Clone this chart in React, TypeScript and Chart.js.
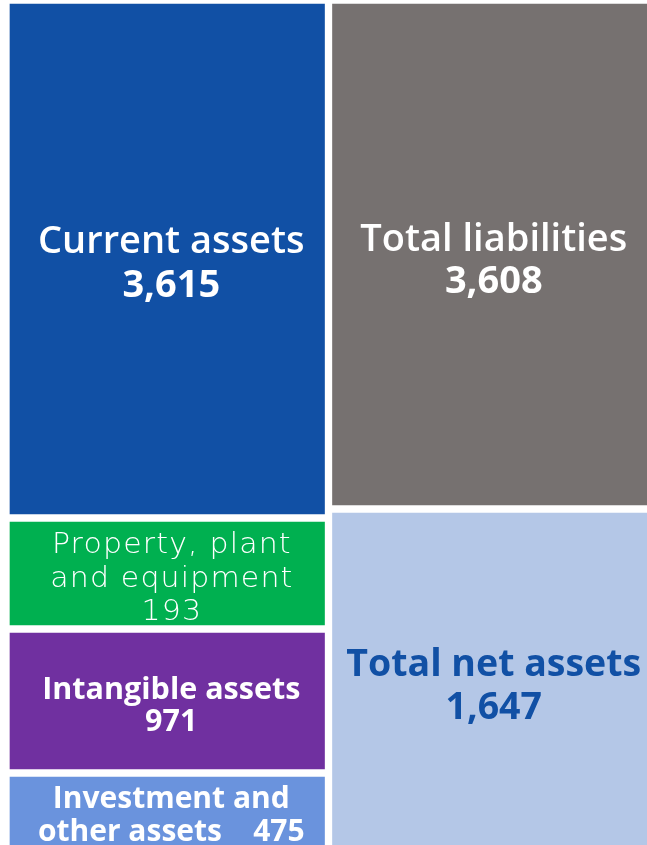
import React, { useEffect, useRef } from "react";
import { Chart, registerables } from "chart.js";

Chart.register(...registerables);

// ---- data ----
const columns = ["Assets", "Liabilities and net assets"];
const itemNames = [
  "Current assets",
  "Property, plant and equipment",
  "Intangible assets",
  "Investment and other assets",
  "Total liabilities",
  "Total net assets",
];
const itemValues = [3615, 193, 971, 475, 3608, 1647];
const itemColumn = [0, 0, 0, 0, 1, 1];
// drawn block sizes as they appear in the picture (relative units)
const blockSizes = [518, 111, 144, 83, 509, 347];
const labelLines = [
  ["Current assets", "{v}"],
  ["Property, plant", "and equipment", "{v}"],
  ["Intangible assets", "{v}"],
  ["Investment and", "other assets    {v}"],
  ["Total liabilities", "{v}"],
  ["Total net assets", "{v}"],
];

// ---- styles ----
const fillColors = ["#1150a5", "#00b050", "#7030a0", "#6a93dd", "#767170", "#b4c7e7"];
const textColors = ["#ffffff", "#ffffff", "#ffffff", "#ffffff", "#ffffff", "#1150a5"];
const FAMILY_MAIN = "'Open Sans', sans-serif";
const FAMILY_LIGHT = "'DejaVu Sans', sans-serif";
type LineStyle = { size: number; weight: string; family: string; spacing?: number; scaleX?: number };
const M = FAMILY_MAIN;
const L = FAMILY_LIGHT;
const lightLine: LineStyle = { size: 28, weight: "200", family: L, spacing: 1.1, scaleX: 1.07 };
const textStyles: { lines: LineStyle[]; lh: number; dy: number }[] = [
  { lines: [{ size: 38, weight: "600", family: M }, { size: 38, weight: "bold", family: M }], lh: 44, dy: 5 },
  { lines: [lightLine, lightLine, lightLine], lh: 33.5, dy: 6 },
  { lines: [{ size: 30.5, weight: "bold", family: M }, { size: 30.5, weight: "bold", family: M }], lh: 32, dy: 5 },
  { lines: [{ size: 30, weight: "bold", family: M }, { size: 30, weight: "bold", family: M }], lh: 33, dy: 1 },
  { lines: [{ size: 38, weight: "600", family: M }, { size: 38, weight: "bold", family: M }], lh: 42, dy: 7 },
  { lines: [{ size: 37.5, weight: "bold", family: M }, { size: 37.5, weight: "bold", family: M }], lh: 43, dy: 4 },
];
const TEXT_DX = 4;

const fmt = (v: number) => v.toLocaleString("en-US");

const labelPlugin = {
  id: "blockLabels",
  afterDatasetsDraw(chart: any) {
    const ctx = chart.ctx;
    chart.data.datasets.forEach((ds: any, di: number) => {
      const meta = chart.getDatasetMeta(di);
      const el = meta.data[itemColumn[di]];
      if (!el) return;
      const { x, y, base } = el.getProps(["x", "y", "base"], true);
      const st = textStyles[di];
      const cy = (y + base) / 2 + st.dy;
      const lines = labelLines[di].map((l) => l.replace("{v}", fmt(itemValues[di])));
      const n = lines.length;
      lines.forEach((line, i) => {
        const ls = st.lines[i];
        const sp = ls.spacing || 0;
        const sx = ls.scaleX || 1;
        ctx.save();
        ctx.fillStyle = textColors[di];
        ctx.textAlign = "center";
        ctx.textBaseline = "middle";
        ctx.font = `${ls.weight} ${ls.size}px ${ls.family}`;
        (ctx as any).letterSpacing = `${sp}px`;
        ctx.translate(x + TEXT_DX, cy + (i - (n - 1) / 2) * st.lh);
        ctx.scale(sx, 1);
        ctx.fillText(line, sp / 2, 0);
        ctx.restore();
      });
    });
  },
};

export default function App() {
  const ref = useRef<HTMLCanvasElement | null>(null);
  useEffect(() => {
    if (!ref.current) return;
    const total = Math.max(
      blockSizes.filter((_, i) => itemColumn[i] === 0).reduce((a, b) => a + b, 0),
      blockSizes.filter((_, i) => itemColumn[i] === 1).reduce((a, b) => a + b, 0)
    );
    const chart = new Chart(ref.current, {
      type: "bar",
      data: {
        labels: columns,
        datasets: itemNames.map((name, i) => ({
          label: name,
          data: columns.map((_, c) => (c === itemColumn[i] ? blockSizes[i] : null)),
          backgroundColor: fillColors[i],
          borderColor: "#ffffff",
          borderWidth: 4,
          borderSkipped: false,
          categoryPercentage: 1,
          barPercentage: 1,
        })),
      },
      options: {
        responsive: false,
        animation: false,
        layout: { padding: 0 },
        plugins: { legend: { display: false }, tooltip: { enabled: false } },
        scales: {
          x: { stacked: true, display: false },
          y: { stacked: true, display: false, reverse: true, min: 0, max: total },
        },
      },
      plugins: [labelPlugin],
    });
    return () => chart.destroy();
  }, []);
  return (
    <div style={{ position: "fixed", left: 0, top: 0, width: 647, height: 845, overflow: "hidden", background: "#fff" }}>
      <canvas
        ref={ref}
        width={645}
        height={856}
        style={{ position: "absolute", left: 6, top: 0, width: 645, height: 856 }}
      />
    </div>
  );
}
